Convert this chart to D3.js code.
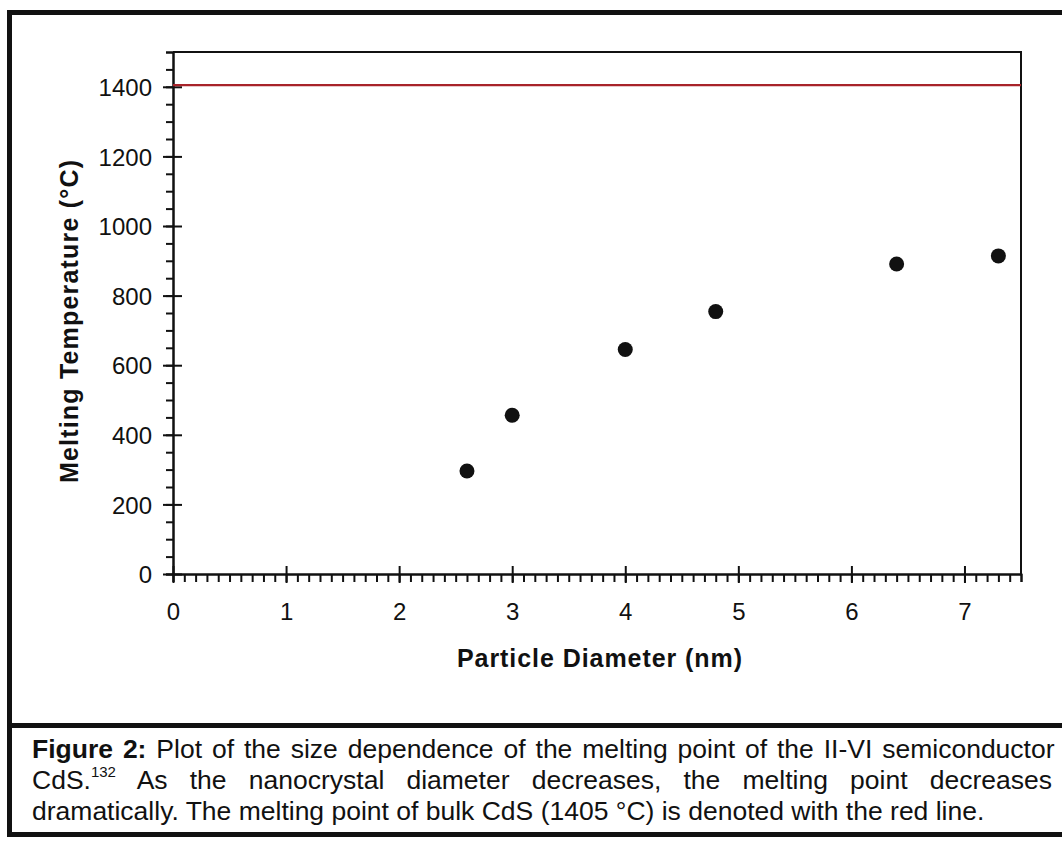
<!DOCTYPE html>
<html>
  <head>
    <title>CdS melting point vs particle diameter</title>
    <script src="https://d3js.org/d3.v7.min.js"></script>
    <style>
      body { margin: 0; background: #fff; }
      svg { font-family: Arial, "Liberation Sans", sans-serif; }
      .axis path, .axis line { stroke: #111; stroke-width: 2px; }
      .axis text { font-size: 24px; fill: #111; }
      .axis-title { font-size: 25px; font-weight: bold; fill: #111; }
      .caption { font-size: 26.5px; fill: #111; }
    </style>
  </head>
  <body>
    <svg width="1062" height="846"></svg>
    <script>
      // data
      const diameters = [2.6, 3.0, 4.0, 4.8, 6.4, 7.3];
      const meltingTemps = [296, 456, 645, 754, 891, 914];
      const bulkMeltingPoint = 1405;

      const xMajorTicks = [0, 1, 2, 3, 4, 5, 6, 7];
      const yMajorTicks = [0, 200, 400, 600, 800, 1000, 1200, 1400];
      const xMinorTicks = d3.range(0, 7.51, 0.1);
      const yMinorTicks = d3.range(0, 1501, 50);

      const xTitle = "Particle Diameter (nm)";
      const yTitle = "Melting Temperature (°C)";

      const svg = d3.select("svg");

      const plot = { left: 173, right: 1021, top: 52, bottom: 574 };

      const x = d3.scaleLinear().domain([0, 7.5]).range([plot.left, plot.right]);
      const y = d3.scaleLinear().domain([0, 1500]).range([plot.bottom, plot.top]);

      // outer figure frame + caption separator
      svg.append("rect")
        .attr("x", 9.5).attr("y", 12.5)
        .attr("width", 1100).attr("height", 822)
        .attr("fill", "none").attr("stroke", "#111").attr("stroke-width", 5);
      svg.append("line")
        .attr("x1", 9.5).attr("x2", 1070)
        .attr("y1", 725.5).attr("y2", 725.5)
        .attr("stroke", "#111").attr("stroke-width", 5);

      // top and right of the plot box
      svg.append("path")
        .attr("d", `M${plot.left},${plot.top}H${plot.right}V${plot.bottom}`)
        .attr("fill", "none").attr("stroke", "#111").attr("stroke-width", 2);

      // minor ticks
      svg.append("g")
        .attr("class", "axis")
        .attr("transform", `translate(0,${plot.bottom})`)
        .call(d3.axisBottom(x).tickValues(xMinorTicks).tickSize(8).tickFormat(""));
      svg.append("g")
        .attr("class", "axis")
        .attr("transform", `translate(${plot.left},0)`)
        .call(d3.axisLeft(y).tickValues(yMinorTicks).tickSize(7).tickFormat(""));

      // major ticks, crossing the axis line
      const xAxisG = svg.append("g")
        .attr("class", "axis")
        .attr("transform", `translate(0,${plot.bottom})`)
        .call(d3.axisBottom(x).tickValues(xMajorTicks).tickSize(9).tickSizeOuter(0)
          .tickFormat(d3.format("d")));
      xAxisG.selectAll(".tick line").attr("y1", -8);
      xAxisG.selectAll(".tick text").attr("y", 46).attr("dy", 0);

      const yAxisG = svg.append("g")
        .attr("class", "axis")
        .attr("transform", `translate(${plot.left},0)`)
        .call(d3.axisLeft(y).tickValues(yMajorTicks).tickSize(10).tickSizeOuter(0)
          .tickFormat(d3.format("d")));
      yAxisG.selectAll(".tick line").attr("x1", 9);
      yAxisG.selectAll(".tick text").attr("x", -21).attr("dy", "0.36em");

      // axis titles
      svg.append("text")
        .attr("class", "axis-title")
        .attr("x", 457).attr("y", 667)
        .attr("textLength", 285)
        .attr("lengthAdjust", "spacing")
        .text(xTitle);

      svg.append("text")
        .attr("class", "axis-title")
        .attr("transform", "translate(78,483) rotate(-90)")
        .attr("textLength", 323)
        .attr("lengthAdjust", "spacing")
        .text(yTitle);

      // bulk melting point line
      svg.append("line")
        .attr("x1", x(0)).attr("x2", x(7.5))
        .attr("y1", y(bulkMeltingPoint)).attr("y2", y(bulkMeltingPoint))
        .attr("stroke", "#a8232a").attr("stroke-width", 2.2);

      // data points
      svg.append("g")
        .selectAll("circle")
        .data(diameters)
        .join("circle")
          .attr("cx", d => x(d))
          .attr("cy", (d, i) => y(meltingTemps[i]))
          .attr("r", 7.5)
          .attr("fill", "#111");

      // caption (first two lines justified)
      const capLeft = 32, capRight = 1052;

      const line1 = svg.append("text").attr("class", "caption").attr("x", capLeft).attr("y", 758);
      line1.append("tspan").attr("font-weight", "bold").text("Figure 2:");
      line1.append("tspan").text(" Plot of the size dependence of the melting point of the II-VI semiconductor");

      const line2 = svg.append("text").attr("class", "caption").attr("x", capLeft).attr("y", 789);
      line2.append("tspan").text("CdS.");
      line2.append("tspan").attr("font-size", 15).attr("dy", -12).text("132");
      line2.append("tspan").attr("dy", 12).text(" As the nanocrystal diameter decreases, the melting point decreases");

      svg.append("text").attr("class", "caption").attr("x", capLeft).attr("y", 820)
        .text("dramatically. The melting point of bulk CdS (1405 °C) is denoted with the red line.");

      function justify(textSel, nSpaces) {
        const w = textSel.node().getComputedTextLength();
        textSel.style("word-spacing", ((capRight - capLeft - w) / nSpaces) + "px");
      }
      justify(line1, 13);
      justify(line2, 9);
    </script>
  </body>
</html>
